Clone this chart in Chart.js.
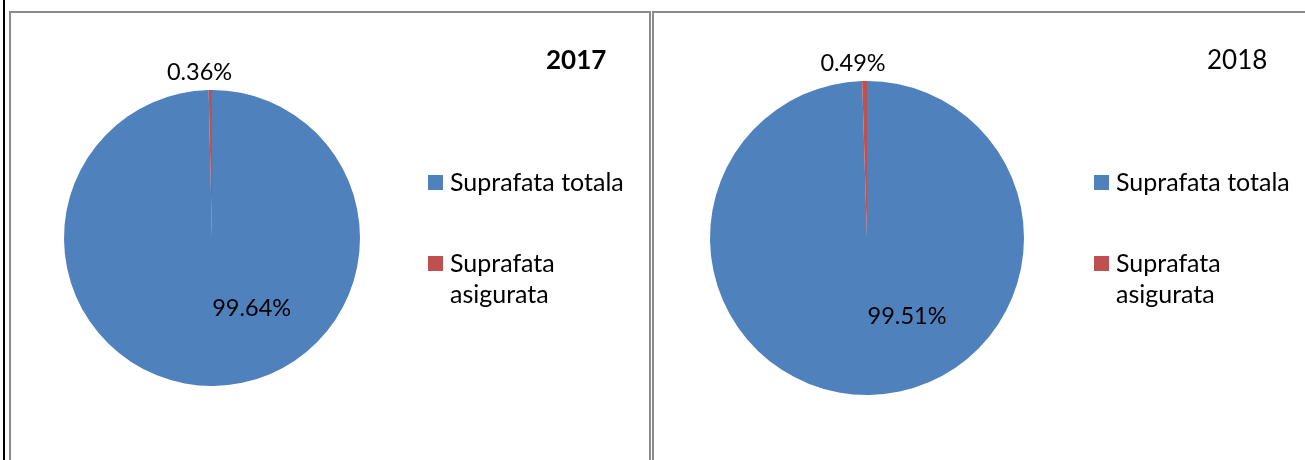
<!DOCTYPE html>
<html>
<head>
<meta charset="utf-8">
<script src="https://cdn.jsdelivr.net/npm/chart.js@4.4.1/dist/chart.umd.min.js"></script>
<style>
  html, body { margin: 0; padding: 0; background: #fff; }
  #page { position: relative; width: 1305px; height: 460px; overflow: hidden; background: #fff; }
  #blackline { position: absolute; left: 3px; top: 0; width: 2px; height: 460px; background: #000; }
  .panel { position: absolute; top: 11px; height: 520px; border: 2px solid #8c8c8c; box-sizing: border-box; background: #fff; }
  #p1 { left: 9px; width: 642px; }
  #p2 { left: 652px; width: 720px; }
  canvas { position: absolute; top: 0; left: 0; }
</style>
</head>
<body>
<div id="page">
  <div id="blackline"></div>
  <div class="panel" id="p1"><canvas id="c1" width="638" height="447"></canvas></div>
  <div class="panel" id="p2"><canvas id="c2" width="651" height="447"></canvas></div>
</div>
<script>
// ---- data ----
const categories = ["Suprafata totala", "Suprafata asigurata"];
const years = ["2017", "2018"];
const values2017 = [99.64, 0.36];
const values2018 = [99.51, 0.49];
const colors = ["#4F81BD", "#C0504D"];

const FONT = "Lato, 'Open Sans', sans-serif";

function wrapWords(ctx, text, maxW) {
  const words = text.split(" ");
  const lines = [];
  let cur = "";
  for (const w of words) {
    const t = cur ? cur + " " + w : w;
    if (cur && ctx.measureText(t).width > maxW) { lines.push(cur); cur = w; }
    else cur = t;
  }
  if (cur) lines.push(cur);
  return lines;
}

const decorPlugin = {
  id: 'decor',
  afterDraw(chart, args, o) {
    const ctx = chart.ctx;
    const meta = chart.getDatasetMeta(0);
    const ds = chart.data.datasets[0];
    ctx.save();
    ctx.fillStyle = "#000";
    // title
    ctx.font = (o.titleBold ? "bold " : "") + o.titleSize + "px " + FONT;
    ctx.textAlign = "left";
    ctx.textBaseline = "alphabetic";
    ctx.fillText(o.title, o.titleX, o.titleY);
    // data labels
    ctx.font = o.labelSize + "px " + FONT;
    ctx.textAlign = "center";
    meta.data.forEach((arc, i) => {
      const r = arc.outerRadius;
      const off = o.labelOffsets[i];
      ctx.fillText(ds.data[i].toFixed(2) + "%", arc.x + off[0] * r, arc.y + off[1] * r);
    });
    // legend
    ctx.font = o.legendSize + "px " + FONT;
    ctx.textAlign = "left";
    chart.data.labels.forEach((lab, i) => {
      const y0 = o.legendY[i];
      ctx.fillStyle = colors[i];
      ctx.fillRect(o.legendX, y0, 15, 15);
      ctx.fillStyle = "#000";
      const lines = wrapWords(ctx, lab, o.legendMaxW);
      lines.forEach((ln, k) => ctx.fillText(ln, o.legendX + 22, y0 + 16 + k * 31));
    });
    ctx.restore();
  }
};

function makePie(id, values, padding, opts) {
  return new Chart(document.getElementById(id), {
    type: 'pie',
    data: {
      labels: categories,
      datasets: [{ data: values, backgroundColor: colors, borderWidth: 0 }]
    },
    options: {
      responsive: false,
      animation: false,
      rotation: 0,
      layout: { padding: padding },
      plugins: { legend: { display: false }, tooltip: { enabled: false }, decor: opts }
    },
    plugins: [decorPlugin]
  });
}

makePie('c1', values2017, { left: 53, top: 77, right: 289, bottom: 74 }, {
  title: years[0], titleBold: true, titleSize: 26, titleX: 535, titleY: 56,
  labelSize: 23.5, labelOffsets: [[0.268, 0.527], [-0.084, -1.068]],
  legendSize: 25, legendX: 417, legendY: [162, 243], legendMaxW: 180
});
makePie('c2', values2018, { left: 56, top: 68, right: 281, bottom: 65 }, {
  title: years[1], titleBold: false, titleSize: 26, titleX: 553, titleY: 56,
  labelSize: 23.5, labelOffsets: [[0.255, 0.548], [-0.089, -1.064]],
  legendSize: 25, legendX: 440, legendY: [162, 243], legendMaxW: 180
});
</script>
</body>
</html>
